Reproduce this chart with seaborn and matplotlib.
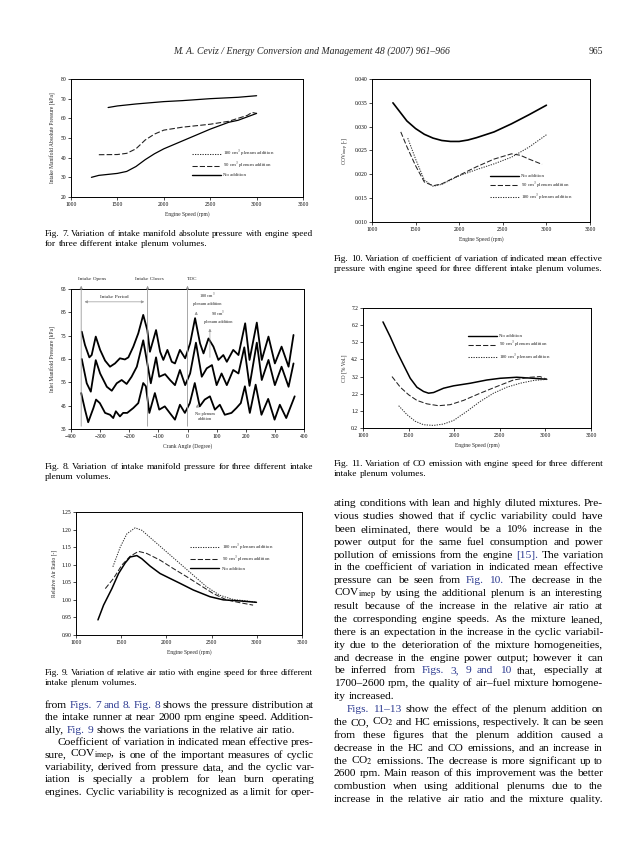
import numpy as np
import pandas as pd
import seaborn as sns
import matplotlib.pyplot as plt
from matplotlib.lines import Line2D

sns.set_style('ticks')
plt.rcParams['font.family'] = ['Liberation Serif', 'DejaVu Serif']
plt.rcParams['mathtext.fontset'] = 'stix'

W, H = 638, 851

# ---- Fig 7 : intake manifold absolute pressure ----
f7_top_rpm = [1400, 1500, 1700, 2000, 2200, 2500, 2800, 3000]
f7_top = [65.5, 66.3, 67.3, 68.5, 69.0, 70.0, 70.7, 71.5]
f7_90_rpm = [1300, 1500, 1600, 1700, 1800, 1900, 2000, 2200, 2500, 2700, 2900, 2950, 3000]
f7_90 = [41.5, 41.6, 42.2, 44.5, 49.0, 52.0, 54.0, 55.5, 57.0, 58.5, 61.5, 63.0, 62.5]
f7_low_rpm = [1220, 1300, 1500, 1600, 1700, 1800, 1900, 2000, 2100, 2300, 2500, 2700, 2800, 3000]
f7_low = [30.0, 31.0, 32.0, 33.0, 35.5, 39.0, 42.0, 44.5, 46.5, 50.5, 54.5, 58.0, 59.0, 62.5]

# ---- Fig 8 : manifold pressure vs crank angle ----
f8_top_ca = [-363, -352, -337, -329, -315, -300, -283, -266, -249, -232, -215, -203, -186, -169, -152,
             -138, -129, -108, -94, -83, -69, -54, -43, -26, -8, 9, 26, 43, 55, 72,
             89, 106, 123, 135, 157, 175, 198, 213, 238, 255, 278, 300, 323, 347, 364]
f8_top = [76.7, 71, 65.7, 66.7, 74.6, 68.9, 64.3, 61.7, 63.1, 65.3, 64.8, 65.7, 70.3, 76, 83.9,
          77.4, 68.1, 77.4, 68.1, 64.6, 68.9, 63.8, 63.1, 68.9, 65.3, 71.7, 82.5, 71.7, 67.4, 73.8,
          70.3, 64.6, 66.7, 63.8, 68.9, 66.7, 80.3, 64.6, 80.6, 64.6, 74.6, 63.1, 70.3, 61.7, 75.3]
f8_mid_ca = [-363, -346, -332, -315, -300, -277, -260, -243, -226, -209, -192, -174, -152, -138, -126,
             -108, -97, -77, -60, -43, -26, -8, 9, 29, 49, 66, 84, 100, 117, 135,
             157, 175, 195, 213, 238, 255, 278, 300, 323, 347, 364]
f8_mid = [65, 54.6, 51, 64.5, 58.8, 53.1, 51.4, 54.6, 56, 54.3, 57.4, 61.7, 73, 63.1, 54.6,
          65.7, 57.4, 58.5, 56, 53.8, 60.3, 53.8, 58.8, 72, 57.4, 61, 62.4, 53.8, 58.8, 53.8,
          60.3, 58.8, 70, 53.5, 72, 56, 64.6, 53.8, 61.7, 53.1, 63.1]
f8_bot_ca = [-365, -352, -341, -323, -314, -301, -283, -266, -255, -246, -232, -221, -207, -186, -169,
             -152, -143, -131, -112, -97, -78, -61, -43, -26, -9, 8, 25, 42, 59, 77,
             94, 111, 128, 151, 168, 183, 197, 214, 234, 254, 277, 299, 317, 339, 368]
f8_bot = [50.4, 43.3, 37.9, 44, 47.6, 46.1, 41.9, 41.1, 39.7, 42.6, 40.4, 41.9, 41.9, 44, 46.1,
          54.7, 53.3, 41.9, 50.4, 43.3, 44.7, 41.9, 39, 45.4, 41.9, 46.1, 54.7, 44.7, 47.6, 49,
          43.3, 45.4, 41.1, 41.9, 44, 46.1, 53.3, 41.9, 54, 41.1, 47.9, 39, 45.4, 39.7, 49]

# ---- Fig 9 : relative air ratio ----
f9_none_rpm = [1243, 1305, 1397, 1471, 1544, 1599, 1673, 1728, 1820, 1930, 2040, 2151, 2298, 2482, 2629, 2812, 2996]
f9_none = [0.943, 0.985, 1.032, 1.075, 1.105, 1.122, 1.126, 1.117, 1.096, 1.075, 1.061, 1.047, 1.028, 1.009, 1.000, 0.997, 0.993]
f9_90_rpm = [1324, 1415, 1507, 1599, 1691, 1783, 1930, 2077, 2224, 2371, 2518, 2665, 2812, 2959]
f9_90 = [1.032, 1.061, 1.099, 1.124, 1.138, 1.132, 1.113, 1.089, 1.066, 1.042, 1.018, 1.000, 0.992, 0.985]
f9_180_rpm = [1408, 1489, 1563, 1654, 1728, 1857, 2004, 2151, 2298, 2445, 2592, 2739, 2886, 2996]
f9_180 = [1.094, 1.150, 1.188, 1.205, 1.198, 1.169, 1.136, 1.103, 1.070, 1.037, 1.013, 1.001, 0.997, 0.993]

# ---- Fig 10 : COV imep ----
f10_none_rpm = [1240, 1400, 1500, 1600, 1700, 1800, 1900, 2000, 2100, 2200, 2400, 2600, 2800, 3000]
f10_none = [0.0350, 0.0312, 0.0296, 0.0284, 0.0276, 0.0271, 0.0269, 0.0269, 0.0272, 0.0277, 0.0289, 0.0306, 0.0325, 0.0345]
f10_90_rpm = [1330, 1400, 1500, 1600, 1700, 1800, 2000, 2200, 2400, 2600, 2700, 2800, 2950]
f10_90 = [0.0289, 0.0258, 0.0218, 0.0184, 0.0176, 0.0180, 0.0198, 0.0216, 0.0232, 0.0243, 0.0240, 0.0232, 0.0221]
f10_180_rpm = [1410, 1500, 1600, 1700, 1800, 2000, 2200, 2400, 2600, 2800, 3000]
f10_180 = [0.0276, 0.0232, 0.0188, 0.0175, 0.0179, 0.0197, 0.0210, 0.0222, 0.0236, 0.0257, 0.0283]

# ---- Fig 11 : CO emission ----
f11_none_rpm = [1219, 1299, 1372, 1445, 1518, 1591, 1664, 1719, 1774, 1883, 1993, 2175, 2358, 2504, 2686, 2869, 3015]
f11_none = [6.39, 5.52, 4.65, 3.87, 3.10, 2.58, 2.33, 2.23, 2.27, 2.52, 2.66, 2.81, 3.00, 3.10, 3.16, 3.10, 3.04]
f11_90_rpm = [1318, 1409, 1500, 1591, 1700, 1828, 1956, 2102, 2285, 2467, 2650, 2832, 2942, 3015]
f11_90 = [3.20, 2.58, 2.14, 1.81, 1.61, 1.50, 1.56, 1.81, 2.23, 2.62, 3.00, 3.16, 3.20, 3.04]
f11_180_rpm = [1391, 1482, 1573, 1664, 1774, 1883, 1993, 2139, 2285, 2431, 2577, 2723, 2869, 3015]
f11_180 = [1.50, 0.98, 0.59, 0.39, 0.35, 0.43, 0.64, 1.17, 1.75, 2.23, 2.58, 2.81, 2.97, 3.04]

lab = {'none': 'No addition', '90': r'90 cm$^3$ plenum addition', '180': r'180 cm$^3$ plenum addition'}
sty = {'none': ('-', 1.0, 'black'), '90': ((0, (5, 2)), 0.75, '#222222'), '180': ((0, (1.2, 1.2)), 0.75, '#333333')}

fig = plt.figure(figsize=(W / 100, H / 100), dpi=100)
blue = '#2b3990'


def box(x0, y0, x1, y1):
    ax = fig.add_axes([x0 / W, 1 - y1 / H, (x1 - x0) / W, (y1 - y0) / H])
    for s in ax.spines.values():
        s.set_visible(True)
        s.set_linewidth(0.7)
        s.set_color('black')
    ax.tick_params(direction='out', length=2, width=0.5, labelsize=4, pad=1.5, colors='black')
    return ax


def curve(ax, x, y, key, lw=None):
    ls, w, c = sty[key]
    sns.lineplot(x=x, y=y, ax=ax, color=c, linestyle=ls, lw=lw or w, sort=False, estimator=None)


def legend(ax, keys, x, y):
    hs = []
    for k in keys:
        ls, w, c = sty[k]
        hs.append(Line2D([], [], color=c, ls=ls, lw=w))
    ax.legend(hs, [lab[k] for k in keys], loc='upper left', bbox_to_anchor=(x, y), frameon=False,
              fontsize=3.5, handlelength=6, handletextpad=0.5, labelspacing=0.35,
              borderaxespad=0, borderpad=0)


def labels(ax, xl, yl, xp=3, yp=3):
    ax.set_xlabel(xl, fontsize=4, labelpad=xp)
    ax.set_ylabel(yl, fontsize=4, labelpad=yp)


# Fig 7
ax = box(71, 79, 303, 197)
curve(ax, f7_top_rpm, f7_top, 'none', 0.9)
curve(ax, f7_90_rpm, f7_90, '90', 0.8)
curve(ax, f7_low_rpm, f7_low, 'none', 0.9)
ax.set_xlim(1000, 3500); ax.set_ylim(20, 80)
ax.set_xticks(range(1000, 3501, 500)); ax.set_yticks(range(20, 81, 10))
labels(ax, 'Engine Speed (rpm)', 'Intake Manifold Absolute Pressure [kPa]')
legend(ax, ['180', '90', 'none'], 0.52, 0.41)

# Fig 10
ax = box(372, 79, 590, 222)
curve(ax, f10_none_rpm, f10_none, 'none', 1.2)
curve(ax, f10_90_rpm, f10_90, '90')
curve(ax, f10_180_rpm, f10_180, '180')
ax.set_xlim(1000, 3500); ax.set_ylim(0.010, 0.040)
ax.set_xticks(range(1000, 3501, 500)); ax.set_yticks(np.arange(0.010, 0.0401, 0.005))
ax.yaxis.set_major_formatter('{x:.3f}')
labels(ax, 'Engine Speed (rpm)', r'COV$_{\mathrm{imep}}$ [-]')
legend(ax, ['none', '90', '180'], 0.54, 0.335)

# Fig 8
ax = box(71, 289, 304, 429)
for xs, ys in [(f8_top_ca, f8_top), (f8_mid_ca, f8_mid), (f8_bot_ca, f8_bot)]:
    sns.lineplot(x=xs, y=ys, ax=ax, color='black', lw=1.3, sort=False, estimator=None)
ax.set_xlim(-400, 400); ax.set_ylim(35, 95)
ax.set_xticks(range(-400, 401, 100)); ax.set_yticks(range(35, 96, 10))
labels(ax, 'Crank Angle (Degree)', 'Inlet Manifold Pressure [kPa]')
gray = dict(arrowstyle='-|>', color='#999999', lw=0.6, mutation_scale=4)
for ca, txt, tx in [(-365, 'Intake Opens', -328), (-137, 'Intake Closes', -132), (0, 'TDC', 16)]:
    ax.annotate('', xy=(ca, 97.6), xytext=(ca, 35), arrowprops=gray, annotation_clip=False)
    ax.text(tx, 99.2, txt, fontsize=3.8, ha='center', va='center', clip_on=False)
ax.annotate('', xy=(-363, 89.5), xytext=(-139, 89.5),
            arrowprops=dict(arrowstyle='<|-|>', color='#999999', lw=0.5, mutation_scale=4))
ax.text(-250, 91.6, 'Intake Period', fontsize=3.8, ha='center', va='center')
small = dict(arrowstyle='-|>', color='#999999', lw=0.5, mutation_scale=4)
ax.annotate('', xy=(30, 86.5), xytext=(30, 83.5), arrowprops=small)
ax.text(68, 90.8, '180 cm$^3$\nplenum addition', fontsize=3.2, ha='center', va='center', linespacing=1.3)
ax.annotate('', xy=(77, 79.2), xytext=(77, 64.5), arrowprops=small)
ax.text(106, 83.2, '90 cm$^3$\nplenum addition', fontsize=3.2, ha='center', va='center', linespacing=1.3)
ax.annotate('', xy=(34, 46.8), xytext=(34, 43.5), arrowprops=small)
ax.text(60, 40.3, 'No plenum\naddition', fontsize=3.2, ha='center', va='center', linespacing=1.3)

# Fig 11
ax = box(363, 308, 591, 428)
curve(ax, f11_none_rpm, f11_none, 'none', 1.1)
curve(ax, f11_90_rpm, f11_90, '90')
curve(ax, f11_180_rpm, f11_180, '180')
ax.set_xlim(1000, 3500); ax.set_ylim(0.2, 7.2)
ax.set_xticks(range(1000, 3501, 500)); ax.set_yticks(np.arange(0.2, 7.21, 1.0))
ax.yaxis.set_major_formatter('{x:.1f}')
labels(ax, 'Engine Speed (rpm)', 'CO [% Vol.]')
legend(ax, ['none', '90', '180'], 0.46, 0.785)

# Fig 9
ax = box(76, 512, 302, 635)
curve(ax, f9_180_rpm, f9_180, '180')
curve(ax, f9_90_rpm, f9_90, '90')
curve(ax, f9_none_rpm, f9_none, 'none', 1.1)
ax.set_xlim(1000, 3500); ax.set_ylim(0.90, 1.25)
ax.set_xticks(range(1000, 3501, 500)); ax.set_yticks(np.arange(0.90, 1.251, 0.05))
ax.yaxis.set_major_formatter('{x:.2f}')
labels(ax, 'Engine Speed (rpm)', 'Relative Air Ratio [-]')
legend(ax, ['180', '90', 'none'], 0.505, 0.755)

# ---- page text ----
rend = fig.canvas.get_renderer()


def line(x0, x1, yc, s, size, just=True, **kw):
    words = s.split()
    ts = []
    for w in words:
        c = 'black'
        if w.startswith('@'):
            w, c = w[1:], blue
        ts.append(fig.text(0, 1 - (yc + 0.36 * size * 100 / 72) / H, w, fontsize=size,
                           color=c, va='baseline', ha='left', **kw))
    ws = [t.get_window_extent(rend).width for t in ts]
    mingap = 0.22 * size * 100 / 72
    need = sum(ws) + mingap * (len(ts) - 1)
    if need > x1 - x0:
        k = (x1 - x0) / need
        for t in ts:
            t.set_fontsize(size * k)
        ws = [t.get_window_extent(rend).width for t in ts]
        mingap *= k
    gap = 0.25 * size * 100 / 72
    if just and len(ts) > 1:
        gap = max((x1 - x0 - sum(ws)) / (len(ts) - 1), mingap)
    x = x0
    for t, w in zip(ts, ws):
        t.set_x(x / W)
        x += w + gap


def para(x0, x1, y0, dy, rows, size):
    for i, (s, ind, just) in enumerate(rows):
        line(x0 + ind, x1, y0 + i * dy, s, size, just)


fig.text(312 / W, 1 - 51 / H, 'M. A. Ceviz / Energy Conversion and Management 48 (2007) 961\u2013966',
         fontsize=7, style='italic', ha='center', va='center')
fig.text(603 / W, 1 - 51 / H, '965', fontsize=7, ha='right', va='center')

cap = 6.8
para(45, 313, 233, 10, [('Fig. 7. Variation of intake manifold absolute pressure with engine speed', 0, True),
                        ('for three different intake plenum volumes.', 0, False)], cap)
para(334, 603, 258, 10, [('Fig. 10. Variation of coefficient of variation of indicated mean effective', 0, True),
                         ('pressure with engine speed for three different intake plenum volumes.', 0, False)], cap)
para(45, 313, 466, 10, [('Fig. 8. Variation of intake manifold pressure for three different intake', 0, True),
                        ('plenum volumes.', 0, False)], cap)
para(334, 603, 463, 10, [('Fig. 11. Variation of CO emission with engine speed for three different', 0, True),
                         ('intake plenum volumes.', 0, False)], cap)
para(45, 313, 672, 10, [('Fig. 9. Variation of relative air ratio with engine speed for three different', 0, True),
                        ('intake plenum volumes.', 0, False)], cap)

body = 8.2
left_rows = [
    ('from @Figs. @7 @and @8. @Fig. @8 shows the pressure distribution at', 0, True),
    ('the intake runner at near 2000 rpm engine speed. Addition-', 0, True),
    ('ally, @Fig. @9 shows the variations in the relative air ratio.', 0, False),
    ('Coefficient of variation in indicated mean effective pres-', 13, True),
    (r'sure, COV$_{\mathrm{imep}}$, is one of the important measures of cyclic', 0, True),
    ('variability, derived from pressure data, and the cyclic var-', 0, True),
    ('iation is specially a problem for lean burn operating', 0, True),
    ('engines. Cyclic variability is recognized as a limit for oper-', 0, True),
]
para(45, 314, 704, 12.4, left_rows, body)

right_rows = [
    ('ating conditions with lean and highly diluted mixtures. Pre-', 0, True),
    ('vious studies showed that if cyclic variability could have', 0, True),
    ('been eliminated, there would be a 10% increase in the', 0, True),
    ('power output for the same fuel consumption and power', 0, True),
    ('pollution of emissions from the engine @[15]. The variation', 0, True),
    ('in the coefficient of variation in indicated mean effective', 0, True),
    ('pressure can be seen from @Fig. @10. The decrease in the', 0, True),
    (r'COV$_{\mathrm{imep}}$ by using the additional plenum is an interesting', 0, True),
    ('result because of the increase in the relative air ratio at', 0, True),
    ('the corresponding engine speeds. As the mixture leaned,', 0, True),
    ('there is an expectation in the increase in the cyclic variabil-', 0, True),
    ('ity due to the deterioration of the mixture homogeneities,', 0, True),
    ('and decrease in the engine power output; however it can', 0, True),
    ('be inferred from @Figs. @3, @9 @and @10 that, especially at', 0, True),
    ('1700\u20132600 rpm, the quality of air\u2013fuel mixture homogene-', 0, True),
    ('ity increased.', 0, False),
    ('@Figs. @11\u201313 show the effect of the plenum addition on', 13, True),
    (r'the CO, CO$_2$ and HC emissions, respectively. It can be seen', 0, True),
    ('from these figures that the plenum addition caused a', 0, True),
    ('decrease in the HC and CO emissions, and an increase in', 0, True),
    (r'the CO$_2$ emissions. The decrease is more significant up to', 0, True),
    ('2600 rpm. Main reason of this improvement was the better', 0, True),
    ('combustion when using additional plenums due to the', 0, True),
    ('increase in the relative air ratio and the mixture quality.', 0, True),
]
para(334, 603, 502, 12.87, right_rows, body)

fig.savefig('out.png', dpi=100)
